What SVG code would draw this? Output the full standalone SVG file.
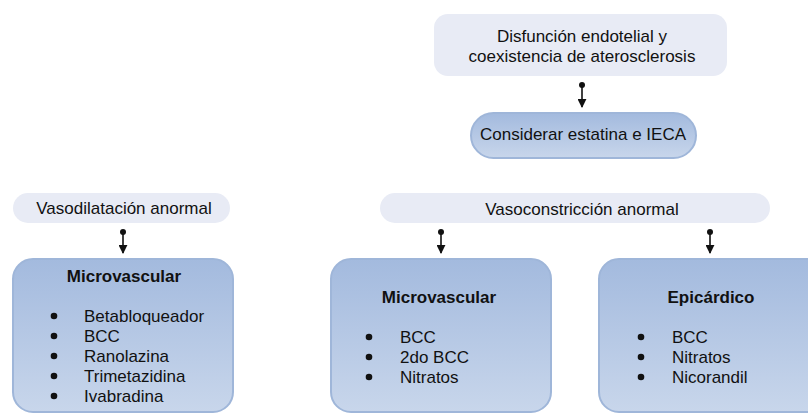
<svg xmlns="http://www.w3.org/2000/svg" width="808" height="414" viewBox="0 0 808 414">
<defs>
<linearGradient id="blueGrad" x1="0" y1="0" x2="0" y2="1">
<stop offset="0" stop-color="#a3bade"/>
<stop offset="1" stop-color="#c8d6eb"/>
</linearGradient>
<marker id="arrow" viewBox="0 0 10 10" refX="9" refY="5" markerWidth="9" markerHeight="9" markerUnits="userSpaceOnUse" orient="auto">
<path d="M0,0 L10,5 L0,10 z" fill="#111"/>
</marker>
</defs>
<style>
text{font-family:"Liberation Sans",Arial,sans-serif;font-size:17px;fill:#111}
.c{text-anchor:middle}
.b{font-weight:bold}
.light{fill:#e8ebf5}
.blue{fill:url(#blueGrad);stroke:#9fb6d9;stroke-width:2}
.conn{stroke:#111;stroke-width:1.6;fill:none;marker-end:url(#arrow)}
.dot{fill:#111}
</style>
<rect width="808" height="414" fill="#ffffff"/>

<g id="connectors">
<path class="conn" d="M582,85 L582,107"/>
<circle class="dot" cx="582" cy="85" r="3"/>
<path class="conn" d="M123,232 L123,253"/>
<circle class="dot" cx="123" cy="232" r="3"/>
<path class="conn" d="M441,232 L441,253"/>
<circle class="dot" cx="441" cy="232" r="3"/>
<path class="conn" d="M710,232 L710,253"/>
<circle class="dot" cx="710" cy="232" r="3"/>
</g>

<g id="disfuncion">
<rect class="light" x="434" y="14" width="293" height="62" rx="14"/>
<text class="c" x="582" y="42">Disfunción endotelial y</text>
<text class="c" x="582" y="62">coexistencia de aterosclerosis</text>
</g>

<g id="considerar">
<rect class="blue" x="471" y="113" width="225" height="45" rx="22.5"/>
<text class="c" x="583" y="140">Considerar estatina e IECA</text>
</g>

<g id="vasodilatacion">
<rect class="light" x="13" y="193" width="217" height="30" rx="15"/>
<text class="c" x="124" y="214">Vasodilatación anormal</text>
</g>

<g id="vasoconstriccion">
<rect class="light" x="380" y="193" width="390" height="30" rx="15"/>
<text class="c" x="582" y="215">Vasoconstricción anormal</text>
</g>

<g id="microvascular-left">
<rect class="blue" x="13" y="259" width="220" height="153" rx="20"/>
<text class="c b" x="124" y="282">Microvascular</text>
<circle class="dot" cx="54" cy="316" r="3.3"/>
<circle class="dot" cx="54" cy="336" r="3.3"/>
<circle class="dot" cx="54" cy="356" r="3.3"/>
<circle class="dot" cx="54" cy="376" r="3.3"/>
<circle class="dot" cx="54" cy="396" r="3.3"/>
<text x="84" y="322">Betabloqueador</text>
<text x="84" y="342">BCC</text>
<text x="84" y="362">Ranolazina</text>
<text x="84" y="382">Trimetazidina</text>
<text x="84" y="402">Ivabradina</text>
</g>

<g id="microvascular-mid">
<rect class="blue" x="331" y="259" width="220" height="153" rx="20"/>
<text class="c b" x="439" y="303">Microvascular</text>
<circle class="dot" cx="369" cy="337" r="3.3"/>
<circle class="dot" cx="369" cy="357" r="3.3"/>
<circle class="dot" cx="369" cy="377" r="3.3"/>
<text x="400" y="343">BCC</text>
<text x="400" y="363">2do BCC</text>
<text x="400" y="383">Nitratos</text>
</g>

<g id="epicardico">
<rect class="blue" x="599" y="259" width="230" height="153" rx="20"/>
<text class="c b" x="711" y="303">Epicárdico</text>
<circle class="dot" cx="641" cy="337" r="3.3"/>
<circle class="dot" cx="641" cy="357" r="3.3"/>
<circle class="dot" cx="641" cy="377" r="3.3"/>
<text x="672" y="343">BCC</text>
<text x="672" y="363">Nitratos</text>
<text x="672" y="383">Nicorandil</text>
</g>
</svg>
